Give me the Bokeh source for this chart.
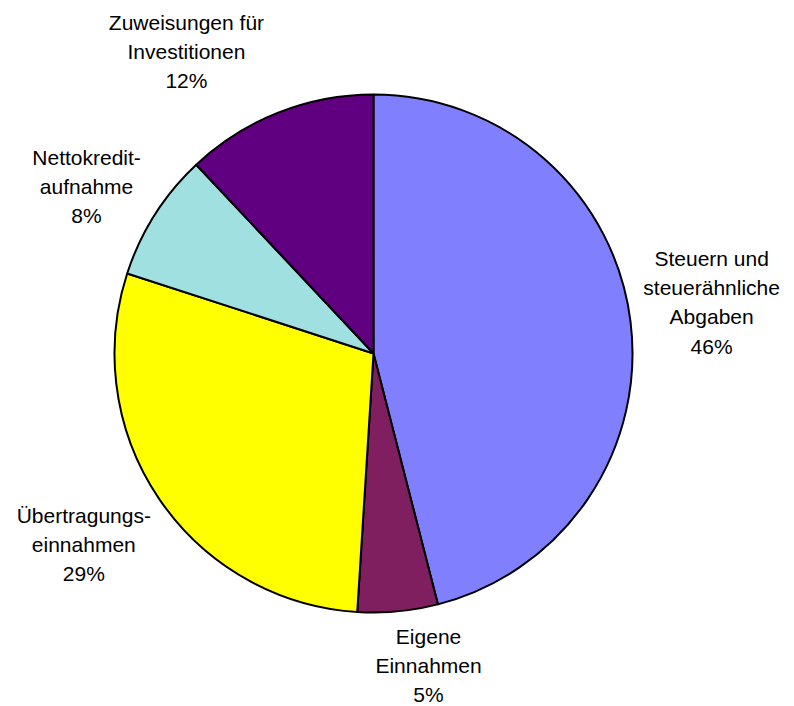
import math
from bokeh.plotting import figure
from bokeh.models import ColumnDataSource, Range1d
from bokeh.core.properties import value
from bokeh.embed import file_html
from bokeh.resources import INLINE

# ---- data ----
categories = ["Steuern und\nsteuerähnliche\nAbgaben", "Eigene\nEinnahmen",
              "Übertragungs-\neinnahmen", "Nettokredit-\naufnahme",
              "Zuweisungen für\nInvestitionen"]
shares = [46, 5, 29, 8, 12]

# ---- style / layout ----
colors = ["#8080FF", "#7F1F5F", "#FFFF00", "#A0E0E0", "#600080"]
label_angle_shift_deg = [-1.4, -4.6, 0.8, -2.2, -10.2]
label_dist = [342, 317, 347, 332, 355]

W, H = 794, 706
CX, CY = 373, 353
R = 259
FONT = 21
LINE_H = 1.27

total = float(sum(shares))
starts, ends, lx, ly, texts = [], [], [], [], []
cum = 0.0
for i, (cat, s) in enumerate(zip(categories, shares)):
    a0 = cum / total * 2 * math.pi
    cum += s
    a1 = cum / total * 2 * math.pi
    starts.append(math.pi / 2 - a0)
    ends.append(math.pi / 2 - a1)
    mid = (a0 + a1) / 2 + math.radians(label_angle_shift_deg[i])
    d = label_dist[i]
    lx.append(math.sin(mid) * d)
    ly.append(math.cos(mid) * d)
    texts.append(cat + "\n" + f"{s}%")

src = ColumnDataSource(dict(start=starts, end=ends, color=colors))
lsrc = ColumnDataSource(dict(x=lx, y=ly, text=texts))

p = figure(width=W, height=H, output_backend="svg", toolbar_location=None,
           x_range=Range1d(-CX, W - CX), y_range=Range1d(-(H - CY), CY),
           min_border=0, outline_line_color=None)
p.axis.visible = False
p.grid.visible = False
p.background_fill_color = "white"
p.border_fill_color = "white"

p.wedge(x=0, y=0, radius=R, radius_units="data", start_angle="start", end_angle="end",
        direction="clock", fill_color="color", line_color="black", line_width=2,
        source=src)
p.text(x="x", y="y", text="text", source=lsrc, text_align="center",
       text_baseline="middle", text_font=value("Liberation Sans"),
       text_font_size=f"{FONT}px", text_line_height=LINE_H, text_color="black")

open("out.html", "w").write(file_html(p, INLINE))
